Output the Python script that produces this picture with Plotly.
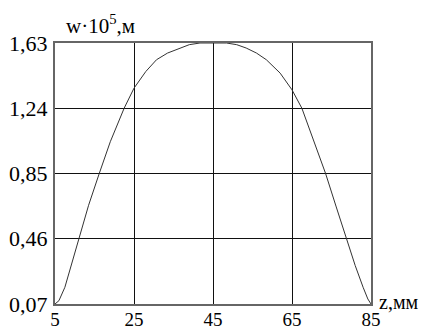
import plotly.graph_objects as go

# Data
z_mm = [5, 6, 7.5, 9, 11, 13.5, 16.2, 19, 22.5, 25, 28, 30.7, 33.5, 36.6, 39, 41.7,
        45, 48.4, 51, 53.4, 56, 58.5, 62, 65, 67.5, 70.5, 73.5, 76.2, 78.8, 81, 83, 84.2, 85]
w_val = [0.07, 0.09, 0.17, 0.29, 0.46, 0.66, 0.85, 1.04, 1.24, 1.36, 1.46, 1.53, 1.57, 1.60, 1.62, 1.63,
         1.63, 1.63, 1.62, 1.60, 1.57, 1.53, 1.45, 1.35, 1.24, 1.05, 0.85, 0.65, 0.46, 0.30, 0.17, 0.10, 0.07]

x_ticks = [5, 25, 45, 65, 85]
x_tick_labels = ["5", "25", "45", "65", "85"]
y_ticks = [0.07, 0.46, 0.85, 1.24, 1.63]
y_tick_labels = ["0,07", "0,46", "0,85", "1,24", "1,63"]

font_family = "'Liberation Serif', 'Times New Roman', 'DejaVu Serif', serif"

fig = go.Figure()
fig.add_trace(go.Scatter(x=z_mm, y=w_val, mode="lines",
                         line=dict(color="#333333", width=1), showlegend=False,
                         cliponaxis=True))

fig.update_layout(
    width=431, height=329,
    margin=dict(l=55, r=60, t=43, b=25),
    paper_bgcolor="white", plot_bgcolor="white",
    font=dict(family=font_family, color="black", size=21),
)
fig.update_xaxes(range=[5, 85], tickvals=x_ticks, ticktext=x_tick_labels,
                 showgrid=True, gridcolor="#111111", gridwidth=1,
                 showline=True, linecolor="#666666", linewidth=2, mirror=True,
                 zeroline=False, ticks="", ticklen=0, automargin=False,
                 ticklabelstandoff=-3,
                 tickfont=dict(family=font_family, size=19, color="black"))
fig.update_yaxes(range=[0.07, 1.63], tickvals=y_ticks, ticktext=y_tick_labels,
                 showgrid=True, gridcolor="#111111", gridwidth=1,
                 showline=True, linecolor="#666666", linewidth=2, mirror=True,
                 zeroline=False, ticks="", ticklen=0, ticklabelstandoff=1,
                 automargin=False,
                 tickfont=dict(family=font_family, size=22, color="black"))

fig.add_annotation(text="w·10<sup>5</sup>,м", xref="paper", yref="paper",
                   x=0.03, y=1.0, xanchor="left", yanchor="bottom", yshift=3,
                   showarrow=False, font=dict(family=font_family, size=21, color="black"))
fig.add_annotation(text="z,мм", xref="paper", yref="paper",
                   x=1.0, y=0.0, xanchor="left", yanchor="middle", xshift=6, yshift=2,
                   showarrow=False, font=dict(family=font_family, size=20, color="black"))

fig.write_html("out.html", config={"displayModeBar": False},
               post_script="document.body.style.margin='0';document.body.style.overflow='hidden';")
